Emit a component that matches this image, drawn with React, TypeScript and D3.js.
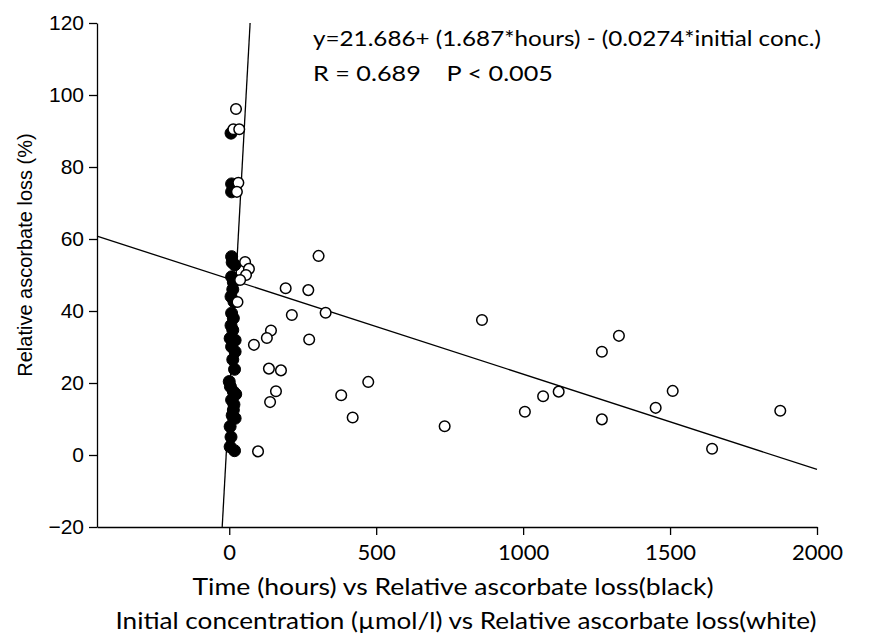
import React, { useEffect, useRef } from "react";
import * as d3 from "d3";

// White (open) points: initial concentration (µmol/l) vs relative ascorbate loss
const whiteConc = [23, 14, 34, 31, 26, 54, 67, 57, 37, 28, 192, 269, 304, 213, 328, 142, 128, 84, 272, 135, 176, 159, 139, 381, 420, 98, 473, 733, 860, 1006, 1068, 1121, 1268, 1268, 1326, 1509, 1451, 1643, 1875];
const whiteLoss = [96.1, 90.5, 90.5, 75.6, 73.1, 53.6, 51.7, 50, 48.6, 42.5, 46.3, 45.8, 55.3, 38.9, 39.5, 34.6, 32.5, 30.6, 32.1, 24, 23.5, 17.7, 14.7, 16.6, 10.4, 1.0, 20.3, 8.0, 37.5, 12.0, 16.3, 17.6, 28.7, 9.9, 33.1, 17.8, 13.1, 1.75, 12.3];

// Black (filled) points: time (hours) vs relative ascorbate loss
const blackHours = [6, 8, 19, 8, 14, 12, 10, 16, 8, 14, 12, 3, 20, 8, 20, 18, 0, 14, 22, 8, 14, 20, 3, 3, 18, 8, 8, 6, 6, 12, 4, 16, 10, 6];
const blackLoss = [89.4, 75.3, 52.8, 55.1, 48, 46, 53.5, 42.6, 39.4, 38, 34.7, 32.4, 31.9, 30.1, 28.7, 23.8, 20.4, 17.6, 16.9, 15.3, 12.5, 10.2, 7.9, 2.3, 1.2, 49.5, 73.1, 44, 36, 26.5, 19, 14, 11, 5];

// Regression lines (endpoints in data units)
const hoursFitX = [-24, 71];
const hoursFitY = [-20, 120];
const concFitX = [-450, 2000];
const concFitY = [60.8, -4.0];

const xTicks = [0, 500, 1000, 1500, 2000];
const yTicks = [-20, 0, 20, 40, 60, 80, 100, 120];

const equationText = "y=21.686+ (1.687*hours) - (0.0274*initial conc.)";
const statsText = "R = 0.689    P < 0.005";
const yLabel = "Relative ascorbate loss (%)";
const xLabel1 = "Time (hours) vs Relative ascorbate loss(black)";
const xLabel2 = "Initial concentration (µmol/l) vs Relative ascorbate loss(white)";

const W = 887;
const H = 635;

export default function App() {
  const ref = useRef<SVGSVGElement | null>(null);

  useEffect(() => {
    const svg = d3.select(ref.current);
    svg.selectAll("*").remove();

    const x = d3.scaleLinear().domain([-450, 2000]).range([97, 817]);
    const y = d3.scaleLinear().domain([-20, 120]).range([527, 23]);

    const sans = "'Liberation Sans', Arial, sans-serif";
    const cal = "Lato, 'Open Sans', sans-serif";

    // Y axis
    const gy = svg.append("g").attr("transform", `translate(${x.range()[0]},0)`);
    gy.call(
      d3.axisLeft(y).tickValues(yTicks).tickSize(8).tickSizeOuter(0).tickPadding(5).tickFormat(d3.format("d"))
    );
    gy.selectAll("path, line").attr("stroke", "#000").attr("stroke-width", 1.3);
    gy.selectAll("text").attr("font-family", sans).attr("font-size", 21).attr("fill", "#000");

    // X axis
    const gx = svg.append("g").attr("transform", `translate(0,${y.range()[0]})`);
    gx.call(d3.axisBottom(x).tickValues(xTicks).tickSize(8).tickSizeOuter(0).tickPadding(9).tickFormat(d3.format("d")));
    gx.selectAll("path, line").attr("stroke", "#000").attr("stroke-width", 1.3);
    gx.selectAll("text").attr("font-family", cal).attr("font-size", 22).attr("fill", "#000");

    // Regression lines
    const line = d3
      .line<[number, number]>()
      .x((d) => x(d[0]))
      .y((d) => y(d[1]));
    const hoursPts = hoursFitX.map((v, i) => [v, hoursFitY[i]] as [number, number]);
    const concPts = concFitX.map((v, i) => [v, concFitY[i]] as [number, number]);
    svg.append("path").attr("d", line(hoursPts)).attr("stroke", "#000").attr("stroke-width", 1.3).attr("fill", "none");
    svg.append("path").attr("d", line(concPts)).attr("stroke", "#000").attr("stroke-width", 1.3).attr("fill", "none");

    // Black points
    svg
      .append("g")
      .selectAll("circle")
      .data(blackHours.map((h, i) => [h, blackLoss[i]]))
      .join("circle")
      .attr("cx", (d) => x(d[0]))
      .attr("cy", (d) => y(d[1]))
      .attr("r", 6)
      .attr("fill", "#000")
      .attr("stroke", "#000")
      .attr("stroke-width", 1);

    // White points
    svg
      .append("g")
      .selectAll("circle")
      .data(whiteConc.map((c, i) => [c, whiteLoss[i]]))
      .join("circle")
      .attr("cx", (d) => x(d[0]))
      .attr("cy", (d) => y(d[1]))
      .attr("r", 5.3)
      .attr("fill", "#fff")
      .attr("stroke", "#000")
      .attr("stroke-width", 1.5);

    // Annotation
    svg
      .append("text")
      .attr("x", 313)
      .attr("y", 46)
      .attr("font-family", cal)
      .attr("font-size", 21)
      .attr("textLength", 508)
      .attr("lengthAdjust", "spacingAndGlyphs")
      .text(equationText);
    svg
      .append("text")
      .attr("x", 313)
      .attr("y", 81)
      .attr("font-family", cal)
      .attr("font-size", 21)
      .attr("textLength", 240)
      .attr("lengthAdjust", "spacingAndGlyphs")
      .attr("xml:space", "preserve")
      .style("white-space", "pre")
      .text(statsText);

    // Y label
    svg
      .append("text")
      .attr("transform", `translate(32,${255}) rotate(-90)`)
      .attr("text-anchor", "middle")
      .attr("font-family", sans)
      .attr("font-size", 20)
      .text(yLabel);

    // X labels
    svg
      .append("text")
      .attr("x", 453)
      .attr("y", 595)
      .attr("text-anchor", "middle")
      .attr("font-family", cal)
      .attr("font-size", 23)
      .attr("textLength", 521)
      .attr("lengthAdjust", "spacingAndGlyphs")
      .text(xLabel1);
    svg
      .append("text")
      .attr("x", 466)
      .attr("y", 629)
      .attr("text-anchor", "middle")
      .attr("font-family", cal)
      .attr("font-size", 23)
      .attr("textLength", 701)
      .attr("lengthAdjust", "spacingAndGlyphs")
      .text(xLabel2);
  }, []);

  return (
    <svg
      ref={ref}
      width={W}
      height={H}
      style={{ position: "absolute", left: 0, top: 0, background: "#fff" }}
    />
  );
}
